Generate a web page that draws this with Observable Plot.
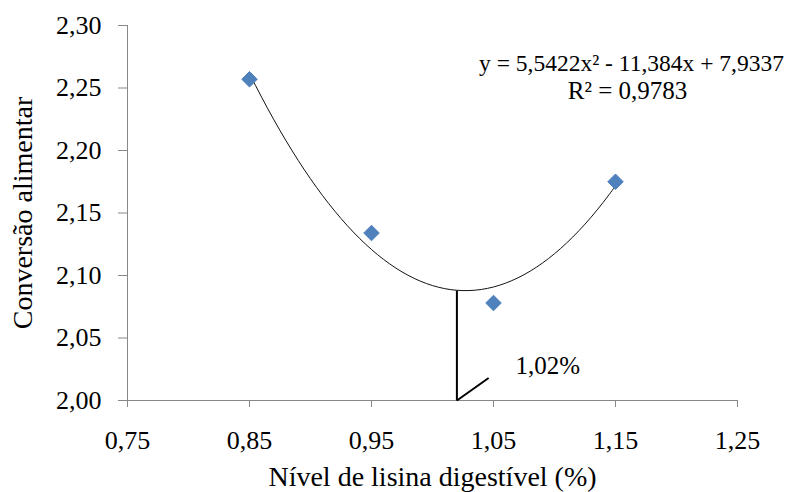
<!DOCTYPE html>
<html><head><meta charset="utf-8">
<script src="https://cdn.jsdelivr.net/npm/d3@7"></script>
<script src="https://cdn.jsdelivr.net/npm/@observablehq/plot@0.6"></script>
<style>
body{margin:0;background:#fff}
</style>
</head><body><div id="chart"></div>
<script>
const lysine = [0.85, 0.95, 1.05, 1.15];
const conversion = [2.257, 2.134, 2.078, 2.175];
const coef = [5.5422, -11.384, 7.9337]; // a, b, c of fitted quadratic shown on chart
const xTicks = [0.75, 0.85, 0.95, 1.05, 1.15, 1.25];
const yTicks = [2.00, 2.05, 2.10, 2.15, 2.20, 2.25, 2.30];
const optimum = 1.02;
const eqText = "y = 5,5422x² - 11,384x + 7,9337";
const r2Text = "R² = 0,9783";
const optLabel = "1,02%";

const points = lysine.map((x, i) => ({x, y: conversion[i]}));
const f = x => coef[0]*x*x + coef[1]*x + coef[2];
const curve = d3.range(lysine[0], lysine[lysine.length-1] + 1e-9, 0.005).map(x => ({x, y: f(x)}));
const fmt = d => d.toFixed(2).replace(".", ",");
const FF = "Liberation Serif";

const chart = Plot.plot({
  width: 789, height: 492,
  marginLeft: 127, marginRight: 52, marginTop: 25, marginBottom: 92,
  style: {background: "#fff", color: "#000", fontFamily: FF},
  x: {domain: [0.75, 1.25]},
  y: {domain: [2.0, 2.3]},
  marks: [
    Plot.ruleX([0.75], {stroke: "#888", strokeWidth: 1}),
    Plot.ruleY([2.0], {stroke: "#888", strokeWidth: 1}),
    Plot.axisX({ticks: xTicks, tickFormat: fmt, tickSize: 7, tickPadding: 23, fontSize: 26, fontFamily: FF, stroke: "#888", label: null}),
    Plot.axisY({ticks: yTicks, tickFormat: fmt, tickSize: 9, tickPadding: 17, fontSize: 26, fontFamily: FF, stroke: "#888", label: null}),
    Plot.text(["Nível de lisina digestível (%)"], {frameAnchor: "bottom", dy: 85, fontSize: 28, fontFamily: FF}),
    Plot.text(["Conversão alimentar"], {frameAnchor: "left", dx: -104, rotate: -90, textAnchor: "middle", lineAnchor: "middle", fontSize: 28, fontFamily: FF}),
    Plot.line(curve, {x: "x", y: "y", stroke: "#111", strokeWidth: 1, curve: "basis"}),
    Plot.link([{x1: optimum, y1: 2.0, x2: optimum, y2: f(1.027)}], {x1: "x1", y1: "y1", x2: "x2", y2: "y2", stroke: "#000", strokeWidth: 2}),
    Plot.link([{x1: optimum, y1: 2.0, x2: 1.046, y2: 2.018}], {x1: "x1", y1: "y1", x2: "x2", y2: "y2", stroke: "#000", strokeWidth: 2}),
    Plot.dot(points, {x: "x", y: "y", symbol: "diamond2", r: 7, fill: "#4F81BD", stroke: "#4F81BD", strokeWidth: 1}),
    Plot.text([optLabel], {x: [1.068], y: [2.028], textAnchor: "start", fontSize: 25, fontFamily: FF}),
    Plot.text([eqText], {frameAnchor: "top-right", dx: -106, dy: 38, textAnchor: "middle", lineAnchor: "middle", fontSize: 23.5, fontFamily: FF}),
    Plot.text([r2Text], {frameAnchor: "top-right", dx: -110, dy: 65, textAnchor: "middle", lineAnchor: "middle", fontSize: 25, fontFamily: FF})
  ]
});
document.getElementById("chart").append(chart);
</script></body></html>
